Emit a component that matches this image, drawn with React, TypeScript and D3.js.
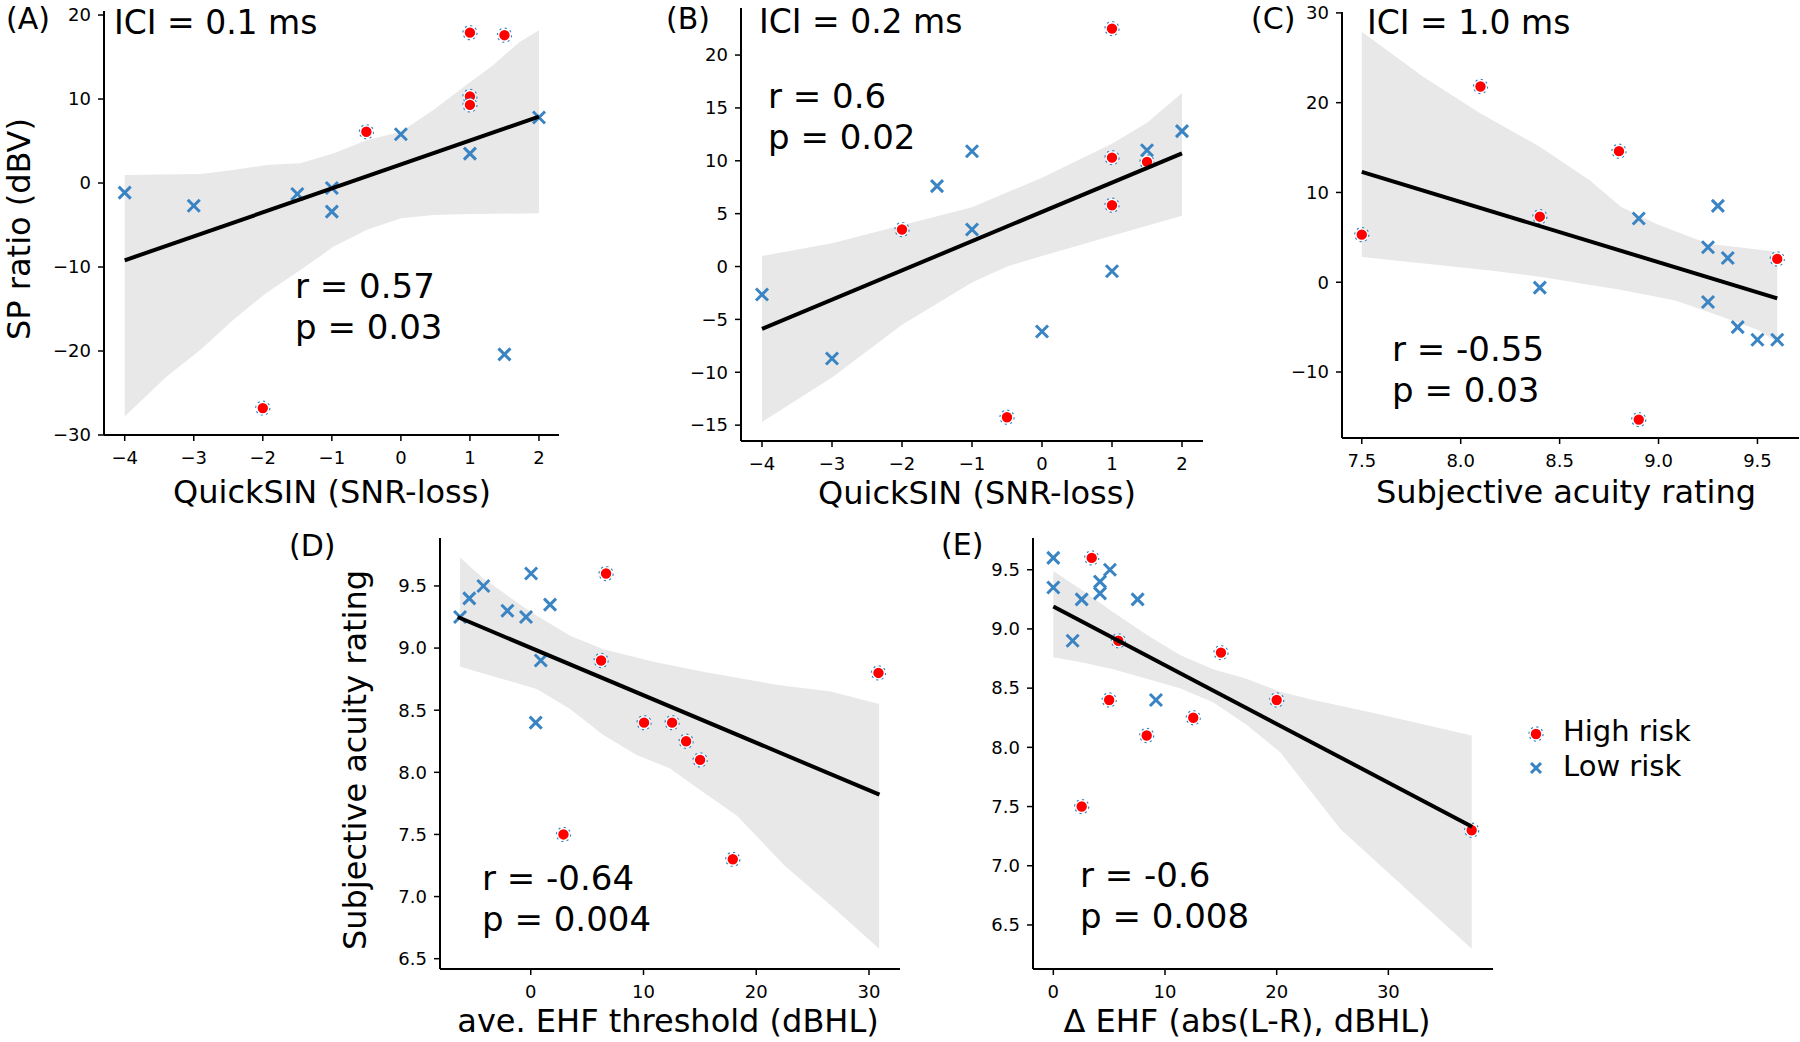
import React from "react";
import * as d3 from "d3";

// ---------- DATA ----------
// Panel A: SP ratio vs QuickSIN, ICI 0.1 ms
const aHighX = [-0.5, 1, 1.5, 1, 1, -2];
const aHighY = [6.1, 17.9, 17.6, 10.3, 9.3, -26.8];
const aLowX = [-4, -3, -1.5, -1, -1, 0, 1, 2, 1.5];
const aLowY = [-1.15, -2.7, -1.3, -0.6, -3.4, 5.8, 3.5, 7.8, -20.4];
const aFit = [-4, -9.2, 2, 7.9];
const aUpX = [-4, -2.9, -2.43, -1.95, -1.46, -0.98, -0.5, 0, 0.47, 1, 1.33, 1.72, 2];
const aUpY = [0.95, 1.07, 1.55, 2.14, 2.34, 3.5, 5.1, 6.1, 8.7, 12.0, 14.0, 16.8, 18.2];
const aLoX = [-4, -3.4, -2.91, -2.43, -1.95, -1.46, -0.98, -0.5, 0, 0.47, 1, 2];
const aLoY = [-27.8, -23.1, -19.9, -16.3, -13.1, -10.4, -7.6, -5.6, -4.2, -3.8, -3.7, -3.6];

// Panel B: ICI 0.2 ms
const bHighX = [-2, 1, 1, 1, 1.5, -0.5];
const bHighY = [3.5, 22.5, 10.3, 5.8, 9.9, -14.25];
const bLowX = [-4, -3, -1.5, -1, -1, 0, 1, 1.5, 2];
const bLowY = [-2.65, -8.7, 7.6, 10.9, 3.5, -6.15, -0.45, 11.0, 12.8];
const bFit = [-4, -5.9, 2, 10.7];
const bUpX = [-4, -3, -2, -1, 0, 1, 1.5, 2];
const bUpY = [1.0, 2.2, 3.9, 5.6, 8.4, 11.6, 13.6, 16.4];
const bLoX = [-4, -3, -2, -1, -0.5, 0, 1, 2];
const bLoY = [-14.7, -10.5, -5.5, -1.5, 0.0, 1.0, 2.9, 4.8];

// Panel C: ICI 1.0 ms vs subjective acuity
const cHighX = [7.5, 8.1, 8.4, 8.8, 8.9, 9.6];
const cHighY = [5.3, 21.8, 7.3, 14.6, -15.3, 2.6];
const cLowX = [8.4, 8.9, 9.25, 9.3, 9.35, 9.25, 9.4, 9.5, 9.6];
const cLowY = [-0.6, 7.1, 3.9, 8.5, 2.7, -2.2, -5.0, -6.4, -6.4];
const cFit = [7.5, 12.3, 9.6, -1.8];
const cUpX = [7.5, 7.81, 8.1, 8.4, 8.65, 8.81, 8.99, 9.25, 9.6];
const cUpY = [27.9, 22.9, 18.8, 15.1, 11.4, 8.4, 6.5, 4.3, 3.4];
const cLoX = [7.5, 8.15, 8.4, 8.82, 9.08, 9.25, 9.5, 9.6];
const cLoY = [2.8, 1.3, 0.6, -0.9, -2.0, -3.3, -5.3, -6.65];

// Panel D: acuity vs ave. EHF threshold
const dHighX = [6.68, 6.24, 10.05, 12.54, 13.78, 15.02, 2.9, 17.92, 30.84];
const dHighY = [9.6, 8.9, 8.4, 8.4, 8.25, 8.1, 7.5, 7.3, 8.8];
const dLowX = [-6.27, -5.45, -4.2, -2.07, -0.42, 0.03, 1.71, 0.89, 0.44];
const dLowY = [9.25, 9.4, 9.5, 9.3, 9.25, 9.6, 9.35, 8.9, 8.4];
const dFit = [-6.48, 9.25, 30.93, 7.82];
const dUpX = [-6.27, -4.2, 0, 3.49, 6.44, 10.9, 15.3, 22.1, 26.6, 30.9];
const dUpY = [9.73, 9.56, 9.29, 9.1, 8.99, 8.89, 8.81, 8.7, 8.65, 8.55];
const dLoX = [-6.27, -2.43, 0.53, 3.49, 6.44, 9.4, 12.36, 15.3, 18.3, 22.5, 26.6, 30.9];
const dLoY = [8.85, 8.75, 8.67, 8.51, 8.3, 8.14, 8.03, 7.84, 7.65, 7.25, 6.93, 6.58];

// Panel E: acuity vs delta EHF
const eHighX = [3.44, 5.82, 15.01, 5.0, 20.0, 12.53, 8.36, 2.54, 37.46];
const eHighY = [9.6, 8.9, 8.8, 8.4, 8.4, 8.25, 8.1, 7.5, 7.3];
const eLowX = [0, 0, 2.54, 1.73, 4.18, 4.18, 5.07, 7.55, 9.19];
const eLowY = [9.6, 9.35, 9.25, 8.9, 9.4, 9.3, 9.5, 9.25, 8.4];
const eFit = [0, 9.19, 37.5, 7.33];
const eUpX = [0, 2.39, 5.37, 8.36, 11.34, 14.3, 17.3, 20.3, 23.3, 29.2, 37.46];
const eUpY = [9.49, 9.34, 9.14, 8.95, 8.78, 8.66, 8.58, 8.47, 8.4, 8.28, 8.1];
const eLoX = [0, 2.39, 5.37, 8.36, 11.34, 14.3, 17.3, 20.3, 25.7, 37.46];
const eLoY = [8.76, 8.72, 8.66, 8.58, 8.5, 8.38, 8.19, 7.96, 7.31, 6.3];

// Tick values
const ticksQuick = [-4, -3, -2, -1, 0, 1, 2];
const ticksA_Y = [-30, -20, -10, 0, 10, 20];
const ticksB_Y = [-15, -10, -5, 0, 5, 10, 15, 20];
const ticksC_X = [7.5, 8.0, 8.5, 9.0, 9.5];
const ticksC_Y = [-10, 0, 10, 20, 30];
const ticksEHF = [0, 10, 20, 30];
const ticksAcuity = [6.5, 7.0, 7.5, 8.0, 8.5, 9.0, 9.5];

const legendLabels = ["High risk", "Low risk"];

// ---------- STYLE ----------
const FONT = "'DejaVu Sans', Verdana, sans-serif";
const RED = "#ff0000";
const BLUE = "#3a84c4";
const BAND = "#e8e8e8";

type PanelCfg = {
  box: [number, number, number, number]; // left, right, top, bottom
  xDom: [number, number];
  yDom: [number, number];
  xTicks: number[];
  yTicks: number[];
  xFmt: (v: number) => string;
  yFmt: (v: number) => string;
  highX: number[]; highY: number[];
  lowX: number[]; lowY: number[];
  fit: number[];
  upX: number[]; upY: number[]; loX: number[]; loY: number[];
  tag: string; tagPos: [number, number];
  title?: string; titlePos?: [number, number];
  r: string; p: string; rPos: [number, number];
  xLabel: string; xLabelPos: [number, number];
  yLabel?: string; yLabelPos?: [number, number];
};

const fmtInt = d3.format("d");
const fmt1 = d3.format(".1f");

function LowMarker({ x, y, s = 6 }: { x: number; y: number; s?: number }) {
  return (
    <g transform={`translate(${x},${y})`}>
      <line x1={-s} y1={-s} x2={s} y2={s} stroke={BLUE} strokeWidth={3} />
      <line x1={-s} y1={s} x2={s} y2={-s} stroke={BLUE} strokeWidth={3} />
    </g>
  );
}

function HighMarker({ x, y }: { x: number; y: number }) {
  return (
    <g transform={`translate(${x},${y})`}>
      <circle r={7} fill="none" stroke={BLUE} strokeWidth={1.3} strokeDasharray="2.2 3.3" />
      <circle r={5.8} fill={RED} stroke="#ffffff" strokeWidth={1.2} />
    </g>
  );
}

function Panel({ c }: { c: PanelCfg }) {
  const [L, R, T, B] = c.box;
  const x = d3.scaleLinear().domain(c.xDom).range([L, R]);
  const y = d3.scaleLinear().domain(c.yDom).range([B, T]);
  const up = c.upX.map((v, i) => [x(v), y(c.upY[i])] as [number, number]);
  const lo = c.loX.map((v, i) => [x(v), y(c.loY[i])] as [number, number]);
  const bandPath = d3.line()([...up, ...lo.reverse()]) + "Z";
  const fitPath = d3.line()([
    [x(c.fit[0]), y(c.fit[1])],
    [x(c.fit[2]), y(c.fit[3])],
  ]);
  const big = 34;
  return (
    <g>
      <path d={bandPath} fill={BAND} stroke="none" />
      {c.lowX.map((v, i) => (
        <LowMarker key={"l" + i} x={x(v)} y={y(c.lowY[i])} />
      ))}
      {c.highX.map((v, i) => (
        <HighMarker key={"h" + i} x={x(v)} y={y(c.highY[i])} />
      ))}
      <path d={fitPath ?? ""} stroke="#000" strokeWidth={4} fill="none" />
      {/* spines */}
      <line x1={L} y1={T} x2={L} y2={B} stroke="#000" strokeWidth={2} />
      <line x1={L} y1={B} x2={R} y2={B} stroke="#000" strokeWidth={2} />
      {c.xTicks.map((t) => (
        <g key={"xt" + t}>
          <line x1={x(t)} x2={x(t)} y1={B} y2={B + 6} stroke="#000" strokeWidth={1.5} />
          <text x={x(t)} y={B + 29} textAnchor="middle" fontSize={18} fontFamily={FONT} fill="#000">
            {c.xFmt(t)}
          </text>
        </g>
      ))}
      {c.yTicks.map((t) => (
        <g key={"yt" + t}>
          <line x1={L - 6} x2={L} y1={y(t)} y2={y(t)} stroke="#000" strokeWidth={1.5} />
          <text x={L - 13} y={y(t)} dy="0.35em" textAnchor="end" fontSize={18} fontFamily={FONT} fill="#000">
            {c.yFmt(t)}
          </text>
        </g>
      ))}
      <text x={c.tagPos[0]} y={c.tagPos[1]} fontSize={30} fontFamily={FONT} fill="#000">{c.tag}</text>
      {c.title && c.titlePos && (
        <text x={c.titlePos[0]} y={c.titlePos[1]} fontSize={33} fontFamily={FONT} fill="#000">{c.title}</text>
      )}
      <text x={c.rPos[0]} y={c.rPos[1]} fontSize={big} fontFamily={FONT} fill="#000">{c.r}</text>
      <text x={c.rPos[0]} y={c.rPos[1] + 41} fontSize={big} fontFamily={FONT} fill="#000">{c.p}</text>
      <text x={c.xLabelPos[0]} y={c.xLabelPos[1]} textAnchor="middle" fontSize={32} fontFamily={FONT} fill="#000">
        {c.xLabel}
      </text>
      {c.yLabel && c.yLabelPos && (
        <text
          transform={`translate(${c.yLabelPos[0]},${c.yLabelPos[1]}) rotate(-90)`}
          textAnchor="middle"
          fontSize={32}
          fontFamily={FONT}
          fill="#000"
        >
          {c.yLabel}
        </text>
      )}
    </g>
  );
}

const panels: PanelCfg[] = [
  {
    box: [104, 559, 11, 435], xDom: [-4.3, 2.29], yDom: [-30, 20.48],
    xTicks: ticksQuick, yTicks: ticksA_Y, xFmt: fmtInt, yFmt: fmtInt,
    highX: aHighX, highY: aHighY, lowX: aLowX, lowY: aLowY, fit: aFit,
    upX: aUpX, upY: aUpY, loX: aLoX, loY: aLoY,
    tag: "(A)", tagPos: [6, 29], title: "ICI = 0.1 ms", titlePos: [114, 34],
    r: "r = 0.57", p: "p = 0.03", rPos: [295, 298],
    xLabel: "QuickSIN (SNR-loss)", xLabelPos: [332, 503],
    yLabel: "SP ratio (dBV)", yLabelPos: [30, 229],
  },
  {
    box: [741, 1203, 8, 441], xDom: [-4.3, 2.3], yDom: [-16.5, 24.45],
    xTicks: ticksQuick, yTicks: ticksB_Y, xFmt: fmtInt, yFmt: fmtInt,
    highX: bHighX, highY: bHighY, lowX: bLowX, lowY: bLowY, fit: bFit,
    upX: bUpX, upY: bUpY, loX: bLoX, loY: bLoY,
    tag: "(B)", tagPos: [666, 29], title: "ICI = 0.2 ms", titlePos: [759, 33],
    r: "r = 0.6", p: "p = 0.02", rPos: [768, 108],
    xLabel: "QuickSIN (SNR-loss)", xLabelPos: [977, 504],
  },
  {
    box: [1342, 1799, 12, 438], xDom: [7.4, 9.71], yDom: [-17.35, 30.1],
    xTicks: ticksC_X, yTicks: ticksC_Y, xFmt: fmt1, yFmt: fmtInt,
    highX: cHighX, highY: cHighY, lowX: cLowX, lowY: cLowY, fit: cFit,
    upX: cUpX, upY: cUpY, loX: cLoX, loY: cLoY,
    tag: "(C)", tagPos: [1251, 29], title: "ICI = 1.0 ms", titlePos: [1367, 34],
    r: "r = -0.55", p: "p = 0.03", rPos: [1392, 361],
    xLabel: "Subjective acuity rating", xLabelPos: [1566, 503],
  },
  {
    box: [440, 900, 538, 969], xDom: [-8.05, 32.75], yDom: [6.417, 9.886],
    xTicks: ticksEHF, yTicks: ticksAcuity, xFmt: fmtInt, yFmt: fmt1,
    highX: dHighX, highY: dHighY, lowX: dLowX, lowY: dLowY, fit: dFit,
    upX: dUpX, upY: dUpY, loX: dLoX, loY: dLoY,
    tag: "(D)", tagPos: [289, 556],
    r: "r = -0.64", p: "p = 0.004", rPos: [482, 890],
    xLabel: "ave. EHF threshold (dBHL)", xLabelPos: [668, 1032],
    yLabel: "Subjective acuity rating", yLabelPos: [366, 760],
  },
  {
    box: [1033, 1493, 538, 969], xDom: [-1.82, 39.37], yDom: [6.128, 9.768],
    xTicks: ticksEHF, yTicks: ticksAcuity, xFmt: fmtInt, yFmt: fmt1,
    highX: eHighX, highY: eHighY, lowX: eLowX, lowY: eLowY, fit: eFit,
    upX: eUpX, upY: eUpY, loX: eLoX, loY: eLoY,
    tag: "(E)", tagPos: [941, 555],
    r: "r = -0.6", p: "p = 0.008", rPos: [1080, 887],
    xLabel: "Δ EHF (abs(L-R), dBHL)", xLabelPos: [1247, 1032],
  },
];

export default function App() {
  return (
    <svg
      width={1800}
      height={1042}
      viewBox="0 0 1800 1042"
      style={{ position: "absolute", left: 0, top: 0, background: "#fff" }}
    >
      <rect width={1800} height={1042} fill="#fff" />
      {panels.map((c, i) => (
        <Panel key={i} c={c} />
      ))}
      <g>
        <HighMarker x={1536} y={734} />
        <LowMarker x={1536} y={768} s={5} />
        <text x={1563} y={741} fontSize={29} fontFamily={FONT} fill="#000">{legendLabels[0]}</text>
        <text x={1563} y={776} fontSize={29} fontFamily={FONT} fill="#000">{legendLabels[1]}</text>
      </g>
    </svg>
  );
}
